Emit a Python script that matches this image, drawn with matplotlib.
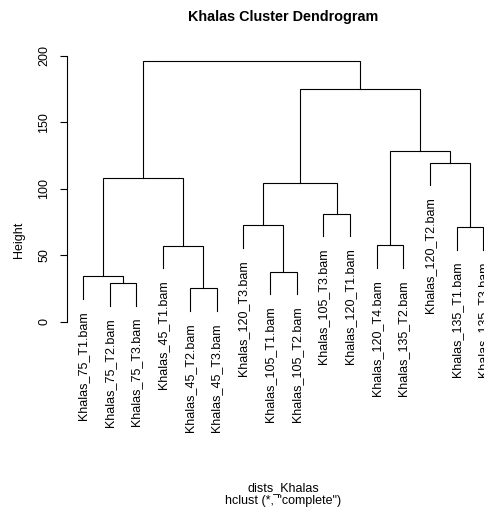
import matplotlib
matplotlib.use("Agg")
import matplotlib.pyplot as plt
from matplotlib.transforms import offset_copy
import numpy as np

plt.rcParams['font.family'] = ['Liberation Sans', 'DejaVu Sans']

# leaf labels in plotting order
labels = ["Khalas_75_T1.bam", "Khalas_75_T2.bam", "Khalas_75_T3.bam",
          "Khalas_45_T1.bam", "Khalas_45_T2.bam", "Khalas_45_T3.bam",
          "Khalas_120_T3.bam", "Khalas_105_T1.bam", "Khalas_105_T2.bam",
          "Khalas_105_T3.bam", "Khalas_120_T1.bam", "Khalas_120_T4.bam",
          "Khalas_135_T2.bam", "Khalas_120_T2.bam", "Khalas_135_T1.bam",
          "Khalas_135_T3.bam"]

# R-style merge matrix: negative = leaf (1-based position), positive = earlier merge row
merge_left = [-5, -2, -1, -8, -4, -12, -15, -7, -10, 8, 3, -14, 6, 10, 11]
merge_right = [-6, -3, 2, -9, 1, -13, -16, 4, -11, 9, 5, 7, 12, 13, 14]
merge_height = [25.0, 28.8, 34.0, 37.5, 57.1, 57.3, 71.2, 72.4, 81.2,
                104.1, 107.9, 119.6, 128.2, 174.9, 196.0]

yticks = [0, 50, 100, 150, 200]
hang_frac = 0.1

W, H = 484, 508
fig = plt.figure(figsize=(W / 100, H / 100), dpi=100)
ax = fig.add_axes([67 / W, (H - 321.5) / H, 432.5 / W, 265.5 / H])
ax.set_xlim(0.4, 16.6)
ax.set_ylim(0, 200)

hang = hang_frac * (max(merge_height) - min(merge_height))
node_x = {}
label_tr = offset_copy(ax.transData, fig=fig, x=0, y=-12, units='dots')


def child_pos(c, parent_h):
    if c < 0:
        return float(-c), parent_h - hang, -c
    return node_x[c], merge_height[c - 1], None


lw = 0.8
for i, (l, r, h) in enumerate(zip(merge_left, merge_right, merge_height), start=1):
    xl, yl, leafl = child_pos(l, h)
    xr, yr, leafr = child_pos(r, h)
    ax.plot([xl, xl, xr, xr], [yl, h, h, yr], color='black', lw=lw,
            solid_joinstyle='miter', clip_on=False)
    node_x[i] = (xl + xr) / 2
    for leaf, xx, yy in ((leafl, xl, yl), (leafr, xr, yr)):
        if leaf is not None:
            ax.text(xx, yy, labels[leaf - 1], rotation=90, ha='center', va='top',
                    fontsize=9, transform=label_tr, clip_on=False)

for s in ['top', 'right', 'bottom']:
    ax.spines[s].set_visible(False)
ax.spines['left'].set_bounds(0, 200)
ax.spines['left'].set_linewidth(lw)
ax.set_xticks([])
ax.set_yticks(yticks)
ax.set_yticklabels([str(t) for t in yticks], rotation=90, va='center')
ax.tick_params(axis='y', length=5, width=lw, pad=7, labelsize=9)
ax.patch.set_visible(False)

cx = 283 / W
fig.text(19 / W, 1 - 240 / H, "Height", rotation=90, ha='center', va='center', fontsize=9)
fig.text(cx, 1 - 17 / H, "Khalas Cluster Dendrogram", ha='center', va='center',
         fontsize=10.4, fontweight='bold')
fig.text(cx, 1 - 488 / H, "dists_Khalas", ha='center', va='center', fontsize=9)
fig.text(cx, 1 - 501 / H, 'hclust (*, "complete")', ha='center', va='center', fontsize=9)

fig.savefig("out.png", dpi=100)
